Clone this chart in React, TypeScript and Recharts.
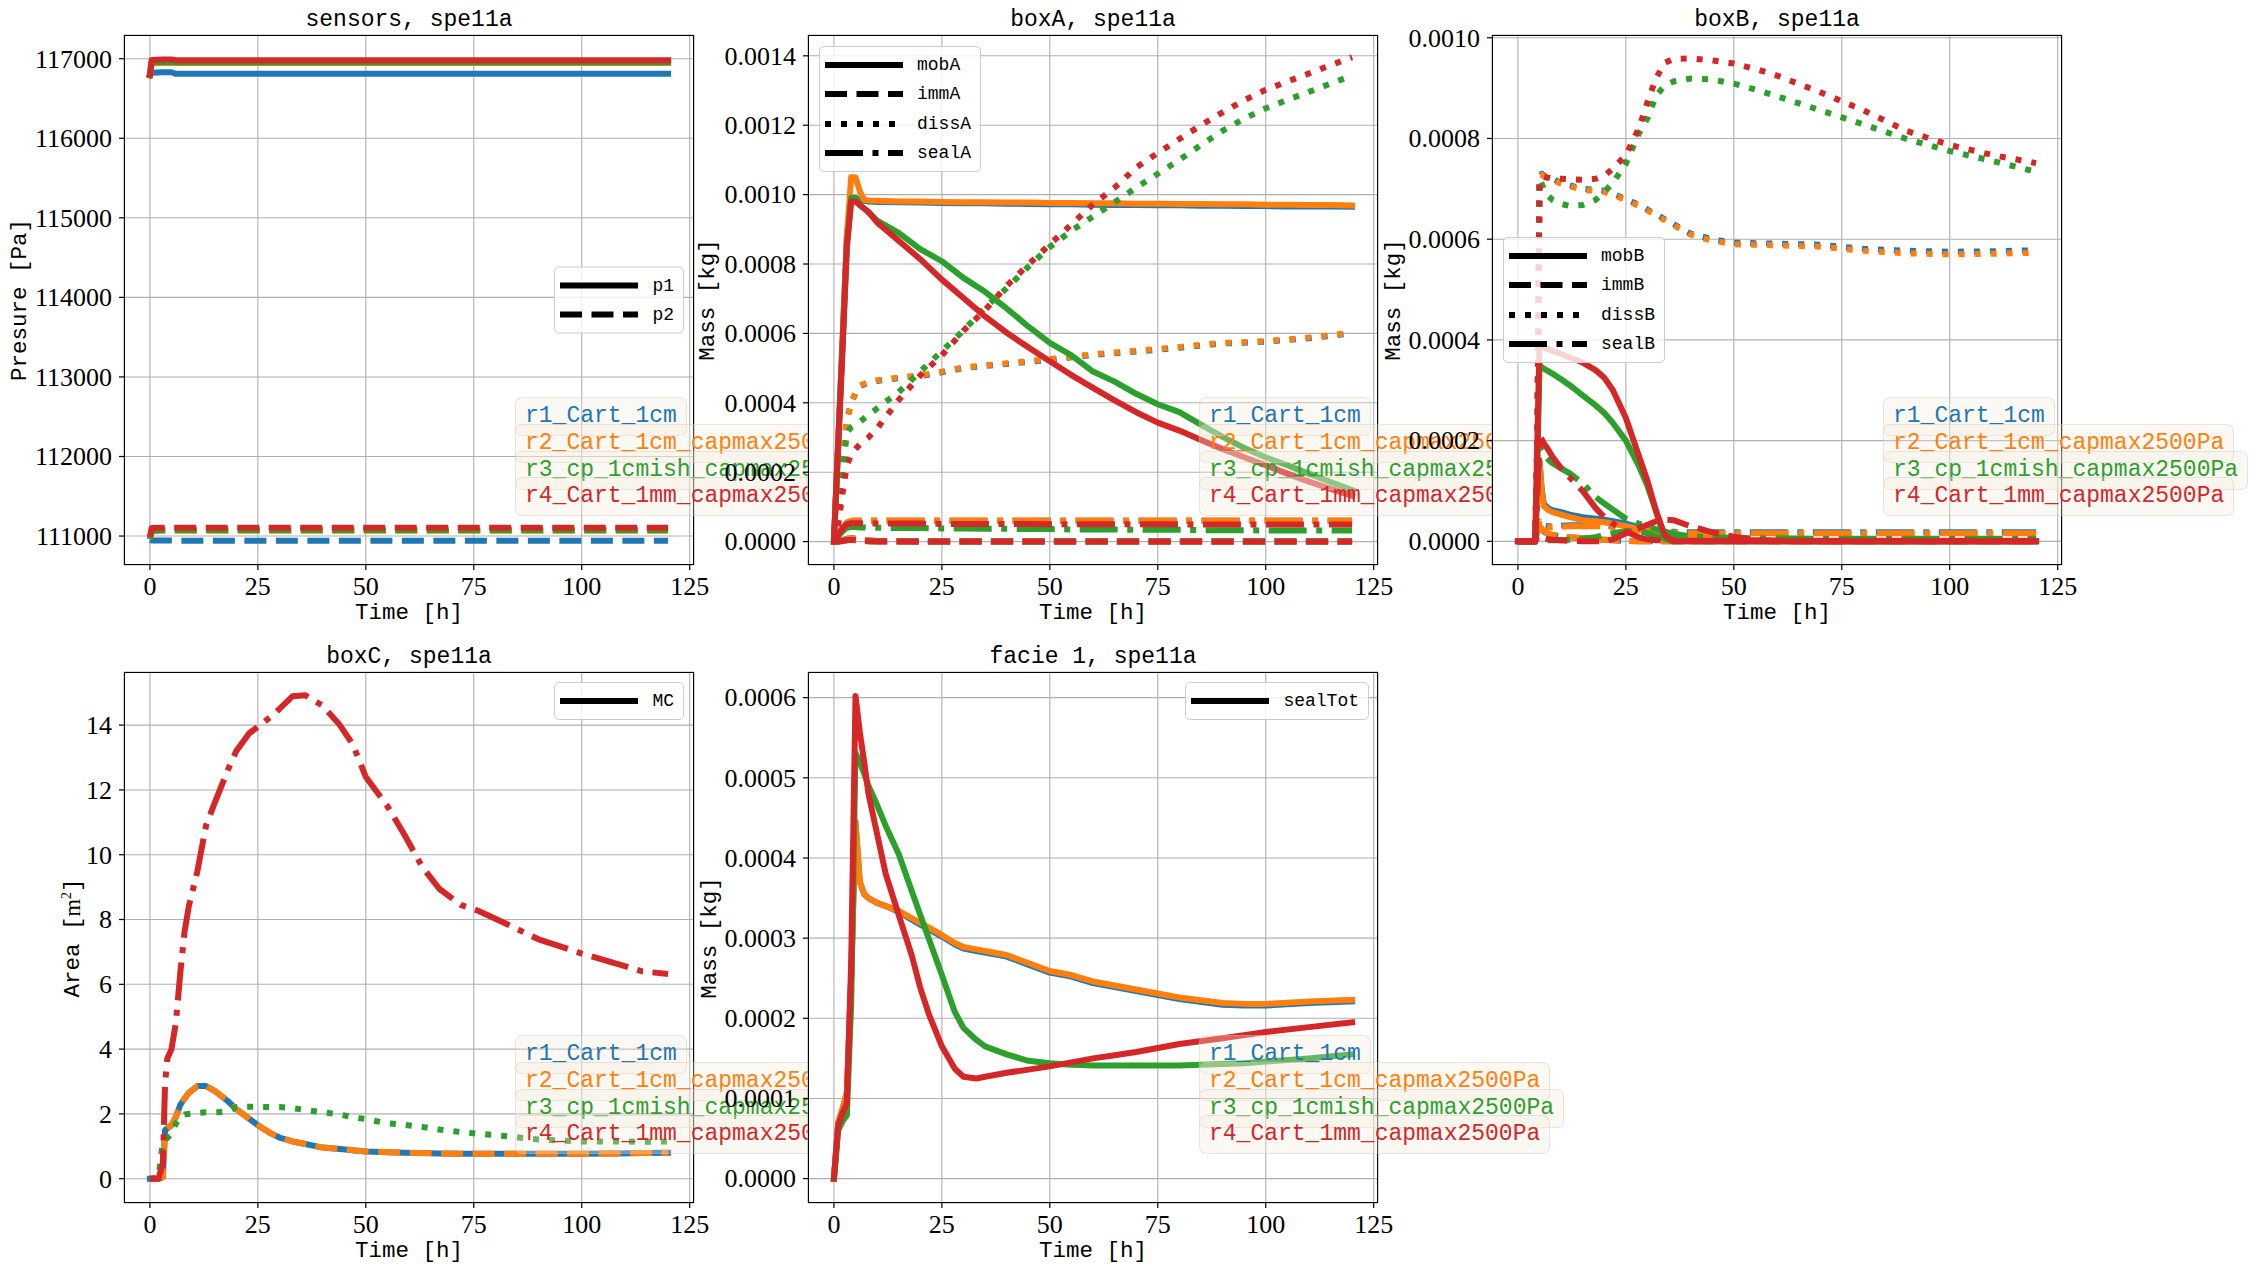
import React from 'react'
import { LineChart, Line, XAxis, YAxis, CartesianGrid } from 'recharts'

const SERIF = '"Liberation Serif", "DejaVu Serif", serif'
const MONO = '"Liberation Mono", "DejaVu Sans Mono", monospace'
const LW = 6

const RUN_COLORS = ['#1f77b4', '#ff7f0e', '#2ca02c', '#d62728']
const RUN_NAMES = ['r1_Cart_1cm', 'r2_Cart_1cm_capmax2500Pa', 'r3_cp_1cmish_capmax2500Pa', 'r4_Cart_1mm_capmax2500Pa']
const TIME_TICKS = [0, 25, 50, 75, 100, 125]

const DASH = { solid: undefined, dashed: '22 9.5', dotted: '6 10', dashdot: '38 9.5 6 9.5' }
type Style = keyof typeof DASH

// ---- sensors ----
const T_SENS = [0, 0.4, 3, 5, 6, 30, 60, 90, 120]
const P1_R1 = [116790, 116825, 116830, 116830, 116810, 116810, 116810, 116810, 116810]
const P1_R2 = [116790, 116940, 116945, 116945, 116945, 116945, 116945, 116945, 116945]
const P1_R3 = [116795, 116955, 116958, 116958, 116955, 116955, 116955, 116955, 116955]
const P1_R4 = [116800, 116985, 116990, 116990, 116982, 116982, 116982, 116982, 116982]
const P2_R1 = [110950, 110945, 110943, 110943, 110942, 110942, 110942, 110942, 110942]
const P2_R2 = [110960, 111060, 111065, 111065, 111065, 111065, 111065, 111065, 111065]
const P2_R3 = [110965, 111070, 111075, 111075, 111075, 111075, 111075, 111075, 111075]
const P2_R4 = [110990, 111100, 111105, 111105, 111105, 111105, 111105, 111105, 111105]

// ---- boxA ----
const T_A = [0, 1, 2, 3, 4, 5, 6, 7, 8, 10, 15, 20, 25, 30, 35, 40, 45, 50, 55, 60, 65, 70, 75, 80, 85, 90, 95, 100, 105, 110, 115, 120]
const MOB_A_R1 = [0, 0.00029, 0.00058, 0.00088, 0.00099, 0.00099, 0.000985, 0.000982, 0.00098, 0.000979, 0.000978, 0.000977, 0.000976, 0.000975, 0.000975, 0.000974, 0.000973, 0.000972, 0.000972, 0.000971, 0.00097, 0.00097, 0.000969, 0.000969, 0.000968, 0.000968, 0.000967, 0.000967, 0.000966, 0.000966, 0.000966, 0.000965]
const MOB_A_R2 = [0, 0.00029, 0.00058, 0.00088, 0.00105, 0.00105, 0.00101, 0.000985, 0.000983, 0.000982, 0.00098, 0.00098, 0.000979, 0.000978, 0.000978, 0.000977, 0.000977, 0.000976, 0.000976, 0.000975, 0.000975, 0.000974, 0.000974, 0.000973, 0.000973, 0.000972, 0.000972, 0.000971, 0.000971, 0.00097, 0.00097, 0.000969]
const MOB_A_R3 = [0, 0.00028, 0.00056, 0.00085, 0.00099, 0.00099, 0.00097, 0.00096, 0.00095, 0.000925, 0.00089, 0.000843, 0.000808, 0.00076, 0.00072, 0.000672, 0.00062, 0.000573, 0.000537, 0.00049, 0.000461, 0.000426, 0.000396, 0.000373, 0.000337, 0.000302, 0.00027, 0.000243, 0.00022, 0.000196, 0.000172, 0.000149]
const MOB_A_R4 = [0, 0.00028, 0.00056, 0.00085, 0.00098, 0.00098, 0.00097, 0.00096, 0.00095, 0.00092, 0.000867, 0.000814, 0.000755, 0.000702, 0.000649, 0.000602, 0.00056, 0.00052, 0.00048, 0.000443, 0.000407, 0.000373, 0.000343, 0.00032, 0.000293, 0.000267, 0.000243, 0.00022, 0.000196, 0.000173, 0.000152, 0.000132]
const IMM_A_R1 = [0, 0, 0.000004, 0.000008, 0.00001, 0.000009, 0.000007, 0.000005, 0.000004, 0.000002, 0.000001, 0, 0, 0, 0, 0, 0, 0, 0, 0, 0, 0, 0, 0, 0, 0, 0, 0, 0, 0, 0, 0]
const IMM_A_R2 = [0, 0, 0.000004, 0.000008, 0.00001, 0.000009, 0.000007, 0.000005, 0.000004, 0.000002, 0.000001, 0, 0, 0, 0, 0, 0, 0, 0, 0, 0, 0, 0, 0, 0, 0, 0, 0, 0, 0, 0, 0]
const IMM_A_R3 = [0, 0, 0.000002, 0.000004, 0.000005, 0.000004, 0.000003, 0.000002, 0.000001, 0, 0, 0, 0, 0, 0, 0, 0, 0, 0, 0, 0, 0, 0, 0, 0, 0, 0, 0, 0, 0, 0, 0]
const IMM_A_R4 = [0, 0, 0.000002, 0.000004, 0.000005, 0.000004, 0.000003, 0.000002, 0.000001, 0, 0, 0, 0, 0, 0, 0, 0, 0, 0, 0, 0, 0, 0, 0, 0, 0, 0, 0, 0, 0, 0, 0]
const DISS_A_R1 = [0, 0.0001, 0.00025, 0.00035, 0.0004, 0.000428, 0.000448, 0.000453, 0.000458, 0.000463, 0.000471, 0.000477, 0.000488, 0.0005, 0.000506, 0.000512, 0.000518, 0.000524, 0.000531, 0.000538, 0.000543, 0.000548, 0.000553, 0.000559, 0.000565, 0.000571, 0.000573, 0.000576, 0.000581, 0.000586, 0.000593, 0.0006]
const DISS_A_R2 = [0, 0.0001, 0.00025, 0.00035, 0.0004, 0.00043, 0.00045, 0.000455, 0.00046, 0.000465, 0.000473, 0.000479, 0.00049, 0.000502, 0.000508, 0.000514, 0.00052, 0.000526, 0.000533, 0.00054, 0.000545, 0.00055, 0.000555, 0.000561, 0.000567, 0.000573, 0.000575, 0.000578, 0.000583, 0.000588, 0.000595, 0.000602]
const DISS_A_R3 = [0, 0.00008, 0.0002, 0.000314, 0.00033, 0.000337, 0.000345, 0.000355, 0.000365, 0.000384, 0.000431, 0.00049, 0.000549, 0.000608, 0.000675, 0.00073, 0.000792, 0.000849, 0.000896, 0.000937, 0.000978, 0.00102, 0.00106, 0.0011, 0.001143, 0.001184, 0.001219, 0.001249, 0.001273, 0.001296, 0.00132, 0.001343]
const DISS_A_R4 = [0, 0.00005, 0.00014, 0.00022, 0.00025, 0.000267, 0.00028, 0.00029, 0.0003, 0.000326, 0.000408, 0.000479, 0.000537, 0.000608, 0.000667, 0.000737, 0.000798, 0.000857, 0.000914, 0.000972, 0.00102, 0.001078, 0.00112, 0.00116, 0.0012, 0.001237, 0.001272, 0.001302, 0.001326, 0.001349, 0.001373, 0.001396]
const SEAL_A_R1 = [0, 0.00002, 0.00004, 0.000054, 0.000059, 0.00006, 0.00006, 0.00006, 0.00006, 0.00006, 0.00006, 0.00006, 0.00006, 0.00006, 0.00006, 0.00006, 0.00006, 0.00006, 0.00006, 0.00006, 0.00006, 0.00006, 0.00006, 0.00006, 0.00006, 0.00006, 0.00006, 0.00006, 0.00006, 0.00006, 0.00006, 0.00006]
const SEAL_A_R2 = [0, 0.00002, 0.00004, 0.000055, 0.00006, 0.000061, 0.000061, 0.000061, 0.000061, 0.000061, 0.000061, 0.000061, 0.000061, 0.000061, 0.000061, 0.000061, 0.000061, 0.000061, 0.000061, 0.000061, 0.000061, 0.000061, 0.000061, 0.000061, 0.000061, 0.000061, 0.000061, 0.000061, 0.000061, 0.000061, 0.000061, 0.000061]
const SEAL_A_R3 = [0, 0.000015, 0.00003, 0.00004, 0.000042, 0.000042, 0.000041, 0.000041, 0.00004, 0.00004, 0.000039, 0.000039, 0.000038, 0.000038, 0.000037, 0.000037, 0.000036, 0.000036, 0.000035, 0.000035, 0.000035, 0.000034, 0.000034, 0.000034, 0.000033, 0.000033, 0.000033, 0.000032, 0.000032, 0.000032, 0.000032, 0.000032]
const SEAL_A_R4 = [0, 0.00002, 0.000038, 0.00005, 0.000053, 0.000053, 0.000053, 0.000052, 0.000052, 0.000052, 0.000052, 0.000052, 0.000051, 0.000051, 0.000051, 0.000051, 0.000051, 0.00005, 0.00005, 0.00005, 0.00005, 0.00005, 0.00005, 0.00005, 0.000049, 0.000049, 0.000049, 0.000049, 0.000049, 0.000049, 0.000049, 0.000049]

// ---- boxB ----
const T_B = [0, 4, 4.5, 5, 5.5, 6, 7, 8, 10, 12, 15, 18, 20, 22, 25, 28, 30, 32, 34, 36, 40, 45, 50, 55, 60, 70, 80, 90, 100, 110, 120]
const MOB_B_R1 = [0, 0, 0.0001, 0.00016, 0.000105, 0.000075, 0.000066, 0.000062, 0.000058, 0.000053, 0.000048, 0.000045, 0.000043, 0.00004, 0.000035, 0.000028, 0.000024, 0.00002, 0.000016, 0.000013, 0.000008, 0.000005, 0.000003, 0.000002, 0.000001, 0, 0, 0, 0, 0, 0]
const MOB_B_R2 = [0, 0, 0.0001, 0.00016, 0.0001, 0.00007, 0.000062, 0.000058, 0.000053, 0.000048, 0.000042, 0.00004, 0.000038, 0.000035, 0.00003, 0.000025, 0.000022, 0.000018, 0.000015, 0.000012, 0.000007, 0.000004, 0.000003, 0.000002, 0.000001, 0, 0, 0, 0, 0, 0]
const MOB_B_R3 = [0, 0, 0.00015, 0.00035, 0.000346, 0.000343, 0.000338, 0.000333, 0.000322, 0.00031, 0.00029, 0.00027, 0.000255, 0.000235, 0.0002, 0.00015, 0.00011, 0.00006, 0.000005, 0, 0, 0, 0, 0, 0, 0, 0, 0, 0, 0, 0]
const MOB_B_R4 = [0, 0, 0.0002, 0.00039, 0.000388, 0.000386, 0.000382, 0.000378, 0.000372, 0.000365, 0.000355, 0.00034, 0.000325, 0.0003, 0.000245, 0.00017, 0.00012, 0.00006, 0.000012, 0, 0, 0, 0, 0, 0, 0, 0, 0, 0, 0, 0]
const IMM_B_R1 = [0, 0, 0.000018, 0.000028, 0.000024, 0.000019, 0.000015, 0.000012, 0.00001, 0.000008, 0.000006, 0.000004, 0.000003, 0.000002, 0.000001, 0, 0, 0, 0, 0, 0, 0, 0, 0, 0, 0, 0, 0, 0, 0, 0]
const IMM_B_R2 = [0, 0, 0.00002, 0.00003, 0.000025, 0.00002, 0.000016, 0.000013, 0.00001, 0.000008, 0.000006, 0.000004, 0.000003, 0.000002, 0.000001, 0, 0, 0, 0, 0, 0, 0, 0, 0, 0, 0, 0, 0, 0, 0, 0]
const IMM_B_R3 = [0, 0, 0.000005, 0.000005, 0.000004, 0.000003, 0.000002, 0.000002, 0.000002, 0.000003, 0.000005, 0.000008, 0.000013, 0.000016, 0.00002, 0.00002, 0.000016, 0.00001, 0.000006, 0.000003, 0, 0, 0, 0, 0, 0, 0, 0, 0, 0, 0]
const IMM_B_R4 = [0, 0, 0.00001, 0.00001, 0.000008, 0.000006, 0.000004, 0.000003, 0.000002, 0.000001, 0, 0, 0, 0.000004, 0.000016, 0.000026, 0.000033, 0.00004, 0.000043, 0.000042, 0.00003, 0.000018, 0.000009, 0.000003, 0, 0, 0, 0, 0, 0, 0]
const DISS_B_R1 = [0, 0, 0.0002, 0.000715, 0.00073, 0.000727, 0.000722, 0.00072, 0.000712, 0.000707, 0.0007, 0.000698, 0.000696, 0.00069, 0.00068, 0.000668, 0.000659, 0.000649, 0.00064, 0.00063, 0.000611, 0.0006, 0.000593, 0.000592, 0.000591, 0.000589, 0.000581, 0.000577, 0.000575, 0.000576, 0.000578]
const DISS_B_R2 = [0, 0, 0.0002, 0.000715, 0.000728, 0.000725, 0.00072, 0.000718, 0.00071, 0.000705, 0.000698, 0.000696, 0.000694, 0.000688, 0.000678, 0.000666, 0.000657, 0.000647, 0.000638, 0.000628, 0.000609, 0.000597, 0.00059, 0.000589, 0.000588, 0.000585, 0.000577, 0.000572, 0.00057, 0.000571, 0.000573]
const DISS_B_R3 = [0, 0, 0.0002, 0.00072, 0.00071, 0.0007, 0.000686, 0.000678, 0.00067, 0.000666, 0.000668, 0.000678, 0.000694, 0.000712, 0.00075, 0.00081, 0.00084, 0.000885, 0.000905, 0.000913, 0.000919, 0.000917, 0.000909, 0.000897, 0.000884, 0.000856, 0.000828, 0.000799, 0.000775, 0.000755, 0.000734]
const DISS_B_R4 = [0, 0, 0.0002, 0.00071, 0.000722, 0.000724, 0.000722, 0.00072, 0.00072, 0.000719, 0.000718, 0.00072, 0.000726, 0.00074, 0.000767, 0.00082, 0.000872, 0.00092, 0.00095, 0.000958, 0.000959, 0.000955, 0.000949, 0.000938, 0.000925, 0.000892, 0.000856, 0.000815, 0.000787, 0.000767, 0.000751]
const SEAL_B_R1 = [0, 0, 0.000022, 0.000042, 0.000037, 0.000032, 0.00003, 0.00003, 0.000031, 0.000032, 0.000032, 0.000032, 0.000032, 0.00003, 0.000027, 0.000024, 0.000022, 0.00002, 0.000019, 0.000019, 0.000018, 0.000018, 0.000018, 0.000018, 0.000018, 0.000018, 0.000018, 0.000018, 0.000018, 0.000018, 0.000018]
const SEAL_B_R2 = [0, 0, 0.00002, 0.00004, 0.000035, 0.00003, 0.000028, 0.000028, 0.000029, 0.00003, 0.00003, 0.00003, 0.00003, 0.000028, 0.000025, 0.000022, 0.00002, 0.000018, 0.000017, 0.000017, 0.000016, 0.000016, 0.000016, 0.000016, 0.000016, 0.000016, 0.000016, 0.000016, 0.000016, 0.000016, 0.000016]
const SEAL_B_R3 = [0, 0, 0.0001, 0.000188, 0.00018, 0.000173, 0.000163, 0.000155, 0.000145, 0.000135, 0.000115, 0.000088, 0.000075, 0.000063, 0.000045, 0.000035, 0.00003, 0.000024, 0.000019, 0.000015, 0.00001, 0.000008, 0.000007, 0.000006, 0.000006, 0.000005, 0.000005, 0.000005, 0.000005, 0.000005, 0.000005]
const SEAL_B_R4 = [0, 0, 0.0001, 0.00021, 0.000203, 0.000195, 0.000182, 0.000168, 0.000145, 0.000127, 0.0001, 0.000066, 0.000048, 0.000035, 0.00002, 0.000008, 0.000004, 0.000002, 0.000002, 0.000002, 0.000001, 0.000001, 0.000001, 0.000001, 0.000001, 0.000001, 0.000001, 0.000001, 0.000001, 0.000001, 0.000001]

// ---- boxC ----
const T_C = [0, 2, 3, 3.5, 4, 5, 6, 7, 8, 9, 11, 13, 15, 18, 20, 23, 25, 28, 30, 33, 36, 40, 44, 47, 50, 55, 59, 63, 67, 72, 76, 82, 90, 100, 108, 114, 120]
const MC_R1 = [0, 0, 0.05, 1.5, 1.55, 1.65, 1.9, 2.27, 2.47, 2.65, 2.86, 2.86, 2.71, 2.4, 2.15, 1.85, 1.65, 1.4, 1.27, 1.15, 1.07, 0.96, 0.92, 0.88, 0.84, 0.82, 0.8, 0.79, 0.78, 0.77, 0.77, 0.77, 0.77, 0.77, 0.78, 0.79, 0.8]
const MC_R2 = [0, 0, 0.05, 1.5, 1.55, 1.65, 1.9, 2.27, 2.47, 2.65, 2.86, 2.86, 2.71, 2.4, 2.15, 1.85, 1.65, 1.4, 1.27, 1.15, 1.07, 0.96, 0.92, 0.88, 0.84, 0.82, 0.8, 0.79, 0.78, 0.77, 0.77, 0.77, 0.77, 0.77, 0.78, 0.79, 0.8]
const MC_R3 = [0, 0.05, 1.15, 1.2, 1.25, 1.4, 1.7, 1.9, 1.98, 2.0, 2.03, 2.05, 2.05, 2.07, 2.21, 2.22, 2.22, 2.21, 2.21, 2.18, 2.12, 2.05, 1.98, 1.9, 1.84, 1.71, 1.66, 1.6, 1.52, 1.44, 1.39, 1.32, 1.21, 1.15, 1.15, 1.14, 1.15]
const MC_R4 = [0, 0, 0.5, 2.9, 3.7, 4.0, 4.8, 6.3, 7.6, 8.4, 9.5, 10.9, 11.6, 12.6, 13.2, 13.75, 13.95, 14.26, 14.5, 14.89, 14.92, 14.6, 14.0, 13.4, 12.4, 11.5, 10.6, 9.64, 8.95, 8.45, 8.27, 7.9, 7.39, 6.95, 6.64, 6.4, 6.32]

// ---- facie 1 ----
const T_F = [0, 1, 2, 3, 4, 5, 6, 7, 8, 10, 12, 15, 18, 20, 22, 25, 28, 30, 33, 35, 40, 45, 50, 55, 60, 65, 70, 75, 80, 90, 95, 100, 110, 120]
const SEAL_F_R1 = [0, 0.00007, 0.000087, 0.000107, 0.00025, 0.000445, 0.00037, 0.000355, 0.00035, 0.000344, 0.00034, 0.000333, 0.000323, 0.000317, 0.000311, 0.000302, 0.000292, 0.000287, 0.000284, 0.000282, 0.000277, 0.000267, 0.000257, 0.000252, 0.000244, 0.000239, 0.000234, 0.000229, 0.000224, 0.000217, 0.000216, 0.000216, 0.000219, 0.000221]
const SEAL_F_R2 = [0, 0.00007, 0.000087, 0.000107, 0.00025, 0.000445, 0.00037, 0.000355, 0.00035, 0.000344, 0.00034, 0.000334, 0.000325, 0.000319, 0.000313, 0.000304, 0.000294, 0.000289, 0.000286, 0.000284, 0.000279, 0.000269, 0.000259, 0.000254, 0.000246, 0.000241, 0.000236, 0.000231, 0.000226, 0.000219, 0.000218, 0.000218, 0.000221, 0.000223]
const SEAL_F_R3 = [0, 0.00006, 0.0000717, 0.000079, 0.000218, 0.000531, 0.00052, 0.000505, 0.00049, 0.000466, 0.00044, 0.000405, 0.000359, 0.000329, 0.000299, 0.000254, 0.000208, 0.000188, 0.000173, 0.000165, 0.000155, 0.000147, 0.000144, 0.000142, 0.000141, 0.000141, 0.000141, 0.000141, 0.000141, 0.000143, 0.000144, 0.000146, 0.00015, 0.000155]
const SEAL_F_R4 = [0, 0.0000667, 0.000082, 0.000094, 0.00027, 0.000602, 0.000557, 0.00052, 0.00048, 0.00043, 0.00038, 0.000329, 0.000279, 0.000238, 0.000205, 0.000165, 0.000137, 0.000127, 0.000125, 0.000127, 0.000132, 0.000136, 0.00014, 0.000145, 0.00015, 0.000154, 0.000158, 0.000163, 0.000168, 0.000175, 0.000179, 0.000183, 0.000189, 0.000195]

type Series = { t: number[]; v: number[]; color: string; style: Style }

const toRows = (t: number[], v: number[]) => t.map((x, k) => ({ t: x, v: v[k] }))

// per run, each quantity in its line style (r1..r4 drawn in order)
function byRun(t: number[], groups: { arrs: number[][]; style: Style }[]): Series[] {
  return [0, 1, 2, 3].flatMap(i =>
    groups.map(g => ({ t, v: g.arrs[i], color: RUN_COLORS[i], style: g.style }))
  )
}

const fmt4 = (v: number) => v.toFixed(4)
const fmt0 = (v: number) => String(Math.round(v))

interface PanelSpec {
  left: number; top: number; w: number; h: number
  title: string
  yLabel: React.ReactNode
  yLabelX: number
  yDomain: [number, number]
  yTicks: number[]
  yFmt: (v: number) => string
  series: Series[]
  legend: { label: string; style: Style }[]
  legendPos: React.CSSProperties
}

const PANELS: PanelSpec[] = [
  {
    left: 124, top: 35, w: 570, h: 530, title: 'sensors, spe11a', yLabel: 'Presure [Pa]', yLabelX: -104,
    yDomain: [110636, 117298], yTicks: [111000, 112000, 113000, 114000, 115000, 116000, 117000], yFmt: fmt0,
    series: byRun(T_SENS, [
      { arrs: [P1_R1, P1_R2, P1_R3, P1_R4], style: 'solid' },
      { arrs: [P2_R1, P2_R2, P2_R3, P2_R4], style: 'dashed' },
    ]),
    legend: [{ label: 'p1', style: 'solid' }, { label: 'p2', style: 'dashed' }],
    legendPos: { right: 9, top: '50%', transform: 'translateY(-50%)' },
  },
  {
    left: 808, top: 35, w: 570, h: 530, title: 'boxA, spe11a', yLabel: 'Mass [kg]', yLabelX: -100,
    yDomain: [-0.0000674, 0.00146], yTicks: [0, 0.0002, 0.0004, 0.0006, 0.0008, 0.001, 0.0012, 0.0014], yFmt: fmt4,
    series: byRun(T_A, [
      { arrs: [MOB_A_R1, MOB_A_R2, MOB_A_R3, MOB_A_R4], style: 'solid' },
      { arrs: [IMM_A_R1, IMM_A_R2, IMM_A_R3, IMM_A_R4], style: 'dashed' },
      { arrs: [DISS_A_R1, DISS_A_R2, DISS_A_R3, DISS_A_R4], style: 'dotted' },
      { arrs: [SEAL_A_R1, SEAL_A_R2, SEAL_A_R3, SEAL_A_R4], style: 'dashdot' },
    ]),
    legend: [
      { label: 'mobA', style: 'solid' }, { label: 'immA', style: 'dashed' },
      { label: 'dissA', style: 'dotted' }, { label: 'sealA', style: 'dashdot' },
    ],
    legendPos: { left: 10, top: 10 },
  },
  {
    left: 1492, top: 35, w: 570, h: 530, title: 'boxB, spe11a', yLabel: 'Mass [kg]', yLabelX: -98,
    yDomain: [-0.000047, 0.0010055], yTicks: [0, 0.0002, 0.0004, 0.0006, 0.0008, 0.001], yFmt: fmt4,
    series: byRun(T_B, [
      { arrs: [MOB_B_R1, MOB_B_R2, MOB_B_R3, MOB_B_R4], style: 'solid' },
      { arrs: [IMM_B_R1, IMM_B_R2, IMM_B_R3, IMM_B_R4], style: 'dashed' },
      { arrs: [DISS_B_R1, DISS_B_R2, DISS_B_R3, DISS_B_R4], style: 'dotted' },
      { arrs: [SEAL_B_R1, SEAL_B_R2, SEAL_B_R3, SEAL_B_R4], style: 'dashdot' },
    ]),
    legend: [
      { label: 'mobB', style: 'solid' }, { label: 'immB', style: 'dashed' },
      { label: 'dissB', style: 'dotted' }, { label: 'sealB', style: 'dashdot' },
    ],
    legendPos: { left: 10, top: '50%', transform: 'translateY(-50%)' },
  },
  {
    left: 124, top: 672, w: 570, h: 531, title: 'boxC, spe11a',
    yLabel: <>Area [<span style={{ fontFamily: SERIF }}>m<sup style={{ fontSize: '0.62em' }}>2</sup></span>]</>,
    yLabelX: -54,
    yDomain: [-0.75, 15.64], yTicks: [0, 2, 4, 6, 8, 10, 12, 14], yFmt: fmt0,
    series: [
      { t: T_C, v: MC_R1, color: RUN_COLORS[0], style: 'solid' },
      { t: T_C, v: MC_R2, color: RUN_COLORS[1], style: 'dashed' },
      { t: T_C, v: MC_R3, color: RUN_COLORS[2], style: 'dotted' },
      { t: T_C, v: MC_R4, color: RUN_COLORS[3], style: 'dashdot' },
    ],
    legend: [{ label: 'MC', style: 'solid' }],
    legendPos: { right: 9, top: 9 },
  },
  {
    left: 808, top: 672, w: 570, h: 531, title: 'facie 1, spe11a', yLabel: 'Mass [kg]', yLabelX: -98,
    yDomain: [-0.0000304, 0.000632], yTicks: [0, 0.0001, 0.0002, 0.0003, 0.0004, 0.0005, 0.0006], yFmt: fmt4,
    series: byRun(T_F, [{ arrs: [SEAL_F_R1, SEAL_F_R2, SEAL_F_R3, SEAL_F_R4], style: 'solid' }]),
    legend: [{ label: 'sealTot', style: 'solid' }],
    legendPos: { right: 8, top: 9 },
  },
]

const PAD_L = 120
const PAD_T = 10
const PAD_R = 40
const PAD_B = 60
const TICK_FONT = 26

function XTick(props: any) {
  const { x, y, payload } = props
  return (
    <text x={x} y={y} dy="0.72em" textAnchor="middle" fontFamily={SERIF} fontSize={TICK_FONT} fill="#000">
      {payload.value}
    </text>
  )
}

function makeYTick(fmt: (v: number) => string) {
  return function YTick(props: any) {
    const { x, y, payload } = props
    return (
      <text x={x} y={y} dy="0.34em" textAnchor="end" fontFamily={SERIF} fontSize={TICK_FONT} fill="#000">
        {fmt(payload.value)}
      </text>
    )
  }
}

function StyleLegend({ items, pos }: { items: PanelSpec['legend']; pos: React.CSSProperties }) {
  return (
    <div
      style={{
        position: 'absolute', ...pos,
        background: 'rgba(255,255,255,0.8)', border: '1.3px solid #cccccc', borderRadius: 5,
        padding: '3px 9px 3px 5px',
      }}
    >
      {items.map(it => (
        <div key={it.label} style={{ display: 'flex', alignItems: 'center', height: 29.5 }}>
          <svg width={78} height={10}>
            <line x1={0} x2={78} y1={5} y2={5} stroke="#000" strokeWidth={LW} strokeDasharray={DASH[it.style]} />
          </svg>
          <span style={{ marginLeft: 14, fontFamily: MONO, fontSize: 18, lineHeight: '18px', color: '#000' }}>{it.label}</span>
        </div>
      ))}
    </div>
  )
}

function RunLabels({ x, y }: { x: number; y: number }) {
  return (
    <>
      {RUN_NAMES.map((name, i) => (
        <div
          key={name}
          style={{
            position: 'absolute', left: x, top: y + i * 26.8, height: 39, boxSizing: 'border-box',
            padding: '0 9px', border: '1.5px solid rgba(200,190,175,0.35)', borderRadius: 7,
            background: 'rgba(245,235,220,0.3)', color: RUN_COLORS[i],
            fontFamily: MONO, fontSize: 23, lineHeight: '36px', whiteSpace: 'nowrap',
          }}
        >
          {name}
        </div>
      ))}
    </>
  )
}

function Panel({ p }: { p: PanelSpec }) {
  const { left, top, w, h } = p
  const YTick = makeYTick(p.yFmt)
  return (
    <>
      <div style={{ position: 'absolute', left: left - PAD_L, top: top - PAD_T }}>
        <LineChart
          width={w + PAD_L + PAD_R}
          height={h + PAD_T + PAD_B}
          margin={{ top: PAD_T, right: PAD_R, left: 0, bottom: 0 }}
        >
          <CartesianGrid stroke="#b0b0b0" strokeWidth={1.1} fill="#ffffff" fillOpacity={1} />
          <XAxis
            type="number"
            dataKey="t"
            domain={[-6, 126]}
            ticks={TIME_TICKS}
            interval={0}
            allowDataOverflow
            height={PAD_B}
            axisLine={false}
            tickLine={{ stroke: '#000', strokeWidth: 1.2 }}
            tickSize={5}
            tickMargin={6}
            tick={<XTick />}
          />
          <YAxis
            type="number"
            domain={p.yDomain}
            ticks={p.yTicks}
            interval={0}
            allowDataOverflow
            width={PAD_L}
            axisLine={false}
            tickLine={{ stroke: '#000', strokeWidth: 1.2 }}
            tickSize={5}
            tickMargin={7}
            tick={<YTick />}
          />
          {p.series.map((s, i) => (
            <Line
              key={i}
              data={toRows(s.t, s.v)}
              dataKey="v"
              type="linear"
              stroke={s.color}
              strokeWidth={LW}
              strokeDasharray={DASH[s.style]}
              strokeLinejoin="round"
              strokeLinecap={s.style === 'solid' ? 'square' : 'butt'}
              dot={false}
              activeDot={false}
              isAnimationActive={false}
            />
          ))}
        </LineChart>
      </div>

      {/* axes frame + linestyle legend */}
      <div
        style={{
          position: 'absolute', left, top, width: w, height: h,
          border: '1.4px solid #000', boxSizing: 'border-box', pointerEvents: 'none',
        }}
      >
        <StyleLegend items={p.legend} pos={p.legendPos} />
      </div>

      <div
        style={{
          position: 'absolute', left, top: top - 29, width: w, textAlign: 'center',
          fontFamily: MONO, fontSize: 23, lineHeight: '28px', color: '#000',
        }}
      >
        {p.title}
      </div>
      <div
        style={{
          position: 'absolute', left, top: top + h + 34, width: w, textAlign: 'center',
          fontFamily: MONO, fontSize: 22.5, lineHeight: '28px', color: '#000',
        }}
      >
        Time [h]
      </div>
      <div
        style={{
          position: 'absolute', left: left + p.yLabelX, top: top + h / 2,
          transform: 'translate(-50%, -50%) rotate(-90deg)',
          fontFamily: MONO, fontSize: 22.5, lineHeight: '28px', whiteSpace: 'nowrap', color: '#000',
        }}
      >
        {p.yLabel}
      </div>

      <RunLabels x={left + w - 179} y={top + h - 168} />
    </>
  )
}

export default function App() {
  return (
    <div
      style={{
        position: 'absolute', left: 0, top: 0, width: 2257, height: 1274,
        background: '#ffffff', overflow: 'hidden',
      }}
    >
      {PANELS.map(p => (
        <Panel key={p.title} p={p} />
      ))}
    </div>
  )
}
